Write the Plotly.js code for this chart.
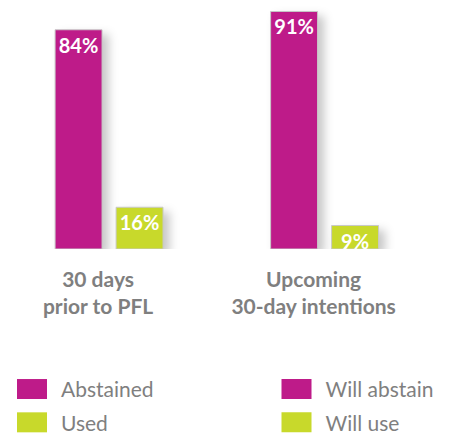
<!DOCTYPE html>
<html>
<head>
<meta charset="utf-8">
<script src="https://cdn.plot.ly/plotly-3.0.1.min.js"></script>
<style>
  html, body { margin: 0; padding: 0; background: #ffffff; }
  #chart { width: 455px; height: 435px; }
</style>
</head>
<body>
<div id="chart"></div>
<script>
// ---- Data ----
const categories = ['30 days<br>prior to PFL', 'Upcoming<br>30-day intentions'];
const pastLabels = ['Abstained', 'Used'];
const pastValues = [84, 16];
const intentLabels = ['Will abstain', 'Will use'];
const intentValues = [91, 9];

// ---- Styles ----
const MAGENTA = '#BE1B89';
const LIME = '#C8D92B';
const GREY = '#7f7f7f';
const FONT = 'Lato, "Open Sans", sans-serif';

function barTrace(name, value, cat, color, slot, legendId) {
  return {
    type: 'bar',
    name: name,
    x: [cat],
    y: [value],
    text: [value + '%'],
    textposition: 'inside',
    insidetextanchor: 'end',
    constraintext: 'none',
    textfont: { family: FONT, size: 20, color: '#ffffff', weight: 'bold' },
    marker: { color: color, line: { color: '#c8c8c8', width: 1 } },
    offsetgroup: slot,
    legend: legendId,
    legendgroup: name,
    hoverinfo: 'skip'
  };
}

const colors = [MAGENTA, LIME];
const traces = [];
pastLabels.forEach((n, i) => traces.push(barTrace(n, pastValues[i], categories[0], colors[i], 's' + i, 'legend')));
intentLabels.forEach((n, i) => traces.push(barTrace(n, intentValues[i], categories[1], colors[i], 's' + i, 'legend2')));

const legendBase = {
  orientation: 'v',
  xref: 'container',
  yref: 'container',
  xanchor: 'left',
  yanchor: 'top',
  font: { family: FONT, size: 21, color: GREY },
  bgcolor: 'rgba(0,0,0,0)',
  tracegroupgap: 3,
  traceorder: 'grouped',
  itemwidth: 48
};

const layout = {
  width: 455,
  height: 435,
  margin: { l: 0, r: 0, t: 0, b: 186, autoexpand: false },
  paper_bgcolor: '#ffffff',
  plot_bgcolor: '#ffffff',
  barmode: 'group',
  bargap: 0.434,
  bargroupgap: 0.23,
  showlegend: true,
  xaxis: {
    type: 'category',
    range: [-0.506, 1.605],
    showline: false,
    showgrid: false,
    zeroline: false,
    ticks: '',
    ticklabelstandoff: 16,
    ticklabelshift: -11,
    automargin: false,
    tickfont: { family: FONT, size: 21, color: GREY, weight: 'bold' },
    fixedrange: true
  },
  yaxis: {
    range: [0, 95.4],
    visible: false,
    showgrid: false,
    zeroline: false,
    fixedrange: true
  },
  legend: Object.assign({}, legendBase, { x: 3 / 455, y: 0.152 }),
  legend2: Object.assign({}, legendBase, { x: 267.5 / 455, y: 0.152 })
};

Plotly.newPlot('chart', traces, layout, { displayModeBar: false, staticPlot: true }).then(function (gd) {
  // soft shadow behind the bars
  gd.querySelectorAll('.barlayer .point path').forEach(function (p) {
    p.style.filter = 'drop-shadow(6px 5px 5px rgba(0,0,0,0.22))';
  });
  // wider rectangular legend swatches
  gd.querySelectorAll('.legendpoints path').forEach(function (p) {
    p.setAttribute('d', 'M15,10H-15V-10H15Z');
    p.style.strokeWidth = '0px';
  });
});
</script>
</body>
</html>
